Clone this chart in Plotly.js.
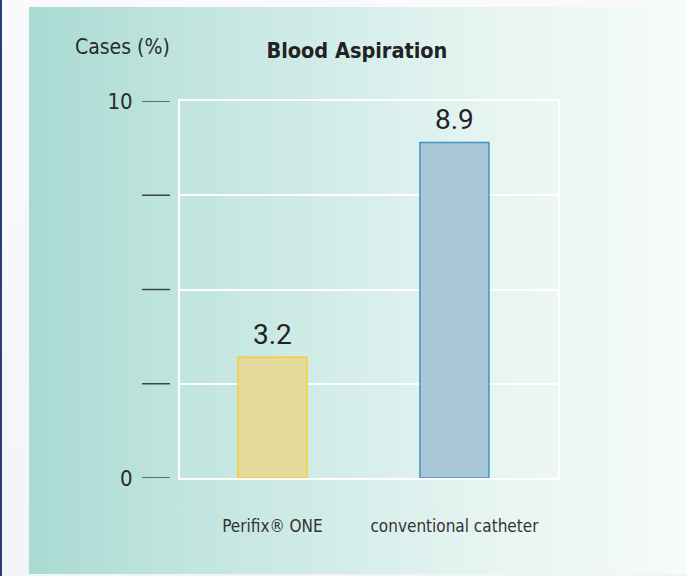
<!DOCTYPE html>
<html>
<head>
<meta charset="utf-8">
<script src="https://cdn.plot.ly/plotly-3.0.1.min.js"></script>
<style>
  html, body { margin: 0; padding: 0; background: #fbfbfd; }
  #wrap { position: relative; width: 687px; height: 576px; overflow: hidden; background: linear-gradient(to bottom, #fafafc, #f3f4f8); }
  #edge { position: absolute; left: 0; top: 0; width: 2px; height: 576px; background: #2d3b78; }
  #panel { position: absolute; left: 29px; top: 7px; width: 658px; height: 567px;
           background: linear-gradient(to right, #a9dbd3 0%, #c2e5df 25%, #d6eeea 50%, #e8f5f2 72%, #f6fbfb 100%); }
  #chart { position: absolute; left: 0; top: 0; width: 687px; height: 576px; }
</style>
</head>
<body>
<div id="wrap">
  <div id="edge"></div>
  <div id="panel"></div>
  <div id="chart"></div>
</div>
<script>
const categories = ["Perifix® ONE", "conventional catheter"];
const values = [3.2, 8.9];
const valueLabels = ["3.2", "8.9"];
const tickVals = [0, 2.5, 5, 7.5, 10];
const tickLabels = ["0", "", "", "", "10"];
const fills = ["#e3da9b", "#a9c8d9"];
const outlines = ["#f6cd38", "#3e93c3"];

const condensed = "'DejaVu Sans Condensed', 'Liberation Sans Narrow', sans-serif";

const trace = {
  type: "bar",
  x: [0, 1],
  y: values,
  width: 0.379,
  marker: { color: fills, line: { color: outlines, width: 1.5 } },
  hoverinfo: "skip"
};

const shapes = tickVals.map(v => ({
  type: "line", xref: "paper", yref: "y",
  x0: -0.1005, x1: -0.0265, y0: v, y1: v,
  line: { color: "#3c4446", width: 1.5 }
}));

const annotations = values.map((v, i) => ({
  x: i, y: v, xref: "x", yref: "y",
  text: valueLabels[i], showarrow: false,
  yanchor: "bottom", yshift: 4,
  font: { family: "Roboto, sans-serif", size: 28, color: "#222" }
}));
annotations.push({
  xref: "paper", yref: "paper", x: -0.283, y: 1.142, xanchor: "left", yanchor: "middle",
  text: "Cases (%)", showarrow: false,
  font: { family: condensed, size: 21, color: "#2a2a2a" }
});

const layout = {
  width: 687, height: 576,
  margin: { l: 180, r: 129, t: 101, b: 98 },
  paper_bgcolor: "rgba(0,0,0,0)",
  plot_bgcolor: "rgba(0,0,0,0)",
  showlegend: false,
  title: {
    text: "<b>Blood Aspiration</b>",
    x: 0.468, xref: "paper", xanchor: "center",
    y: 0.913, yref: "container", yanchor: "middle",
    font: { family: condensed, size: 21.5, color: "#222" }
  },
  xaxis: {
    range: [-0.508, 1.569],
    tickvals: [0, 1], ticktext: categories,
    ticks: "", showgrid: false, zeroline: false,
    showline: true, mirror: true, linecolor: "#ffffff", linewidth: 2,
    ticklabelstandoff: 32,
    tickfont: { family: condensed, size: 17, color: "#333" },
    fixedrange: true
  },
  yaxis: {
    range: [0, 10],
    tickvals: tickVals, ticktext: tickLabels,
    ticks: "", showgrid: true, gridcolor: "#ffffff", gridwidth: 2,
    zeroline: false,
    showline: true, mirror: true, linecolor: "#ffffff", linewidth: 2,
    ticklabelstandoff: 41,
    tickfont: { family: condensed, size: 22, color: "#2a2a2a" },
    fixedrange: true
  },
  shapes: shapes,
  annotations: annotations
};

Plotly.newPlot("chart", [trace], layout, { displayModeBar: false, staticPlot: true });
</script>
</body>
</html>
